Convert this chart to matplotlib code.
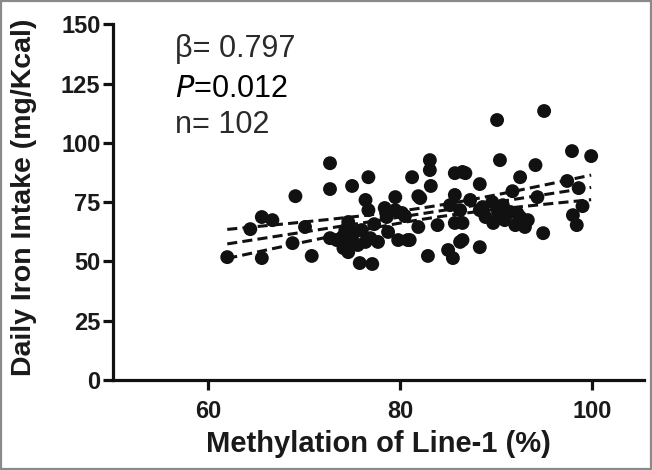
import numpy as np
import matplotlib
matplotlib.use("Agg")
import matplotlib.pyplot as plt
from matplotlib.patches import Rectangle

plt.rcParams['font.family'] = ['Liberation Sans', 'DejaVu Sans']

# Methylation of Line-1 (%)
methylation = [
    62.0, 64.4, 65.6, 66.7, 65.6, 69.1, 68.8, 70.1, 70.8, 72.7, 72.7, 72.7,
    74.0, 75.0, 74.6, 74.6, 76.0, 77.3, 76.4, 77.7, 75.8, 77.1, 76.4, 76.7,
    78.4, 79.5, 80.2, 79.8, 80.8, 75.0, 76.7, 79.5, 80.5, 78.6, 73.4, 74.1,
    75.3, 74.3, 76.9, 75.6, 78.75,
    83.1, 83.1, 81.25, 83.2, 81.9, 85.7, 86.5, 85.7, 86.25, 81.9, 83.9, 85.7,
    81.0, 86.25, 85.0, 82.9, 85.5, 82.1, 85.2,
    90.1, 95.0, 97.9, 99.9, 90.4, 94.1, 92.5, 88.3, 91.7, 94.3, 88.6, 90.7,
    88.3, 88.9, 89.7, 92.2, 93.3, 94.9, 88.3, 86.5, 86.5, 97.4, 98.6, 99.0,
    98.0, 98.4, 91.5, 92.5, 93.0, 86.8, 89.6, 87.3, 90.2, 90.9, 92.0,
]
# Daily iron intake (mg/Kcal)
iron_intake = [
    51.8, 63.6, 68.7, 67.4, 51.4, 77.5, 57.7, 64.5, 52.3, 91.4, 80.5, 59.8,
    60.3, 58.2, 53.9, 66.6, 63.2, 65.7, 58.2, 58.2, 49.3, 48.9, 75.9, 71.6,
    72.5, 77.1, 70.4, 59.0, 59.0, 81.8, 85.5, 71.6, 69.1, 68.7, 59.0, 55.6,
    62.4, 63.2, 59.8, 56.9, 62.4,
    92.7, 88.5, 85.5, 81.8, 77.5, 78.0, 87.7, 87.2, 71.6, 64.5, 65.3, 66.2,
    59.0, 58.2, 54.8, 52.3, 51.4, 76.7, 73.7,
    109.6, 113.4, 96.5, 94.4, 92.7, 90.6, 85.5, 82.6, 79.6, 77.1, 72.9, 73.7,
    71.6, 68.7, 66.2, 70.4, 67.4, 61.9, 56.0, 66.2, 59.0, 83.9, 80.9, 73.3,
    69.5, 65.3, 70.8, 68.7, 64.5, 87.2, 75.0, 75.9, 70.8, 67.4, 65.3,
]

x_ticks = [60, 80, 100]
y_ticks = [0, 25, 50, 75, 100, 125, 150]
stats_beta = "β= 0.797"
stats_p = "=0.012"
stats_n = "n= 102"

x = np.array(methylation)
y = np.array(iron_intake)

fig = plt.figure(figsize=(6.52, 4.70), dpi=100)
ax = fig.add_axes([0.1733, 0.1915, 0.8144, 0.757])

ax.scatter(x, y, s=100, color='#111111', edgecolors='none', zorder=3)

# linear regression with 95% confidence band
n = len(x)
b1, b0 = np.polyfit(x, y, 1)
xs = np.linspace(x.min(), x.max(), 200)
ys = b0 + b1 * xs
resid = y - (b0 + b1 * x)
s = np.sqrt(np.sum(resid ** 2) / (n - 2))
se = s * np.sqrt(1.0 / n + (xs - x.mean()) ** 2 / np.sum((x - x.mean()) ** 2))
t = 1.984
dash = (3.3, 1.7)
for curve in (ys, ys + t * se, ys - t * se):
    ax.plot(xs, curve, color='#111111', lw=2.2, dashes=dash, zorder=4)

ax.set_xlim(50.1, 105.4)
ax.set_ylim(0, 150)
ax.set_xticks(x_ticks)
ax.set_yticks(y_ticks)
for sp in ('top', 'right'):
    ax.spines[sp].set_visible(False)
for sp in ('left', 'bottom'):
    ax.spines[sp].set_linewidth(2.3)
    ax.spines[sp].set_color('#111111')
ax.tick_params(axis='both', direction='out', length=7.5, width=2.3, color='#111111',
               labelsize=17)
ax.tick_params(axis='x', pad=7)
ax.tick_params(axis='y', pad=1.5)
for lab in ax.get_xticklabels() + ax.get_yticklabels():
    lab.set_fontweight('bold')
    lab.set_color('#1a1a1a')

ax.set_xlabel('Methylation of Line-1 (%)', fontsize=21, fontweight='bold',
              color='#1a1a1a', labelpad=5)
ax.set_ylabel('Daily Iron Intake (mg/Kcal)', fontsize=20.5, fontweight='bold',
              color='#1a1a1a')
ax.yaxis.set_label_coords(-0.144, 0.514)

tx = 0.117
ax.text(tx, 0.907, stats_beta, transform=ax.transAxes, fontsize=22,
        color='#2a2a2a', va='baseline', ha='left')
ax.text(tx, 0.795, r'$\it{P}$' + stats_p, transform=ax.transAxes, fontsize=22,
        color='#000000', va='baseline', ha='left')
ax.text(tx, 0.694, stats_n, transform=ax.transAxes, fontsize=22,
        color='#2a2a2a', va='baseline', ha='left')

fig.patches.append(Rectangle((0.0015, 0.002), 0.997, 0.996, transform=fig.transFigure,
                             fill=False, edgecolor='#8a8a8a', linewidth=1.6))

fig.savefig('out.png', dpi=100)
